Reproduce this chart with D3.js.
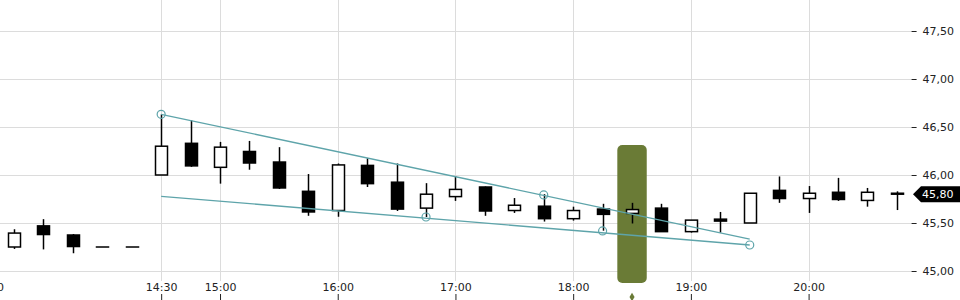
<!DOCTYPE html>
<html><head><meta charset="utf-8">
<script src="https://cdn.jsdelivr.net/npm/d3@7"></script>
<style>
html,body{margin:0;padding:0;background:#fff;overflow:hidden}
svg{display:block;font-family:"DejaVu Sans",sans-serif}
</style></head>
<body><svg id="c" width="960" height="300"></svg>
<script>
// ---- data ----
const times = ["20:45","21:00","21:15","21:30","21:45",
  "14:30","14:45","15:00","15:15","15:30","15:45","16:00","16:15","16:30","16:45",
  "17:00","17:15","17:30","17:45","18:00","18:15","18:30","18:45","19:00","19:15",
  "19:30","19:45","20:00","20:15","20:30","20:45"];
const open  = [45.25,45.47,45.375,45.25,45.25, 46.00,46.33,46.08,46.245,46.135,45.83,45.63,46.10,45.925,45.655,
  45.775,45.875,45.63,45.675,45.545,45.645,45.60,45.655,45.41,45.54,45.50,45.84,45.755,45.82,45.735,45.81];
const high  = [45.435,45.54,45.385,45.25,45.25, 46.632,46.57,46.345,46.355,46.29,46.01,46.12,46.175,46.12,45.915,
  45.99,45.88,45.76,45.80,45.67,45.70,45.71,45.70,45.53,45.615,45.81,45.985,45.885,45.97,45.865,45.83];
const low   = [45.23,45.225,45.185,45.25,45.25, 46.00,46.085,45.91,46.055,45.855,45.575,45.565,45.875,45.625,45.5625,
  45.73,45.575,45.605,45.515,45.525,45.42,45.495,45.41,45.40,45.40,45.50,45.71,45.605,45.73,45.67,45.635];
const close = [45.395,45.38,45.255,45.25,45.25, 46.30,46.095,46.29,46.125,45.865,45.615,46.105,45.91,45.645,45.80,
  45.85,45.625,45.685,45.545,45.63,45.59,45.64,45.41,45.53,45.52,45.81,45.755,45.81,45.745,45.82,45.80];
const xTickIdx    = [-0.9, 5, 7, 11, 15, 19, 23, 27];
const xTickLabels = ["21:00","14:30","15:00","16:00","17:00","18:00","19:00","20:00"];
const yTicks = [45.0, 45.5, 46.0, 46.5, 47.0, 47.5];
const lastPrice = 45.80;
const highlightIdx = 21;
const highlightTop = 46.3125;
// trendlines: [index, value]
const upperLine = [[5, 46.632], [25, 45.333]];
const lowerLine = [[5, 45.778], [25, 45.271]];
const anchors = [[5, 46.632], [18, 45.792], [14, 45.5625], [20, 45.417], [25, 45.271]];

// ---- drawing ----
const svg = d3.select("#c");
const W = 960, H = 300;
const x = d3.scaleLinear().domain([-0.5, times.length - 0.5]).range([-0.7, 911.6]);
const y = d3.scaleLinear().domain([45, 47.5]).range([271, 31]);
const loc = d3.formatLocale({decimal: ",", thousands: ".", grouping: [3], currency: ["", "€"]});
const fmt = loc.format(".2f");
const grid = "#dcdcdc";

// grid
svg.append("g").selectAll("line").data(yTicks).join("line")
  .attr("x1", 0).attr("x2", x.range()[1]).attr("y1", d => y(d)).attr("y2", d => y(d))
  .attr("stroke", grid).attr("stroke-width", 1).attr("shape-rendering", "crispEdges");
svg.append("g").selectAll("line").data(xTickIdx).join("line")
  .attr("x1", d => Math.round(x(d)) + 0.5).attr("x2", d => Math.round(x(d)) + 0.5)
  .attr("y1", 0).attr("y2", 281)
  .attr("stroke", grid).attr("stroke-width", 1);

// highlight box
const bw = x(1) - x(0);
const olive = "#6a7b36";
svg.append("rect")
  .attr("x", x(highlightIdx) - bw / 2).attr("width", bw)
  .attr("y", y(highlightTop)).attr("height", 283 - y(highlightTop))
  .attr("rx", 5).attr("fill", olive);
svg.append("path")
  .attr("d", d3.symbol(d3.symbolDiamond, 22)())
  .attr("transform", `translate(${x(highlightIdx)},297)`)
  .attr("fill", olive);

// candles
const idx = d3.range(times.length);
const cg = svg.append("g").selectAll("g").data(idx).join("g");
cg.append("line")
  .attr("x1", i => Math.round(x(i)) + 0.5).attr("x2", i => Math.round(x(i)) + 0.5)
  .attr("y1", i => y(high[i])).attr("y2", i => y(low[i]))
  .attr("stroke", "#000").attr("stroke-width", 1.5);
cg.append("rect")
  .attr("x", i => Math.round(x(i)) - 5.5).attr("width", 12)
  .attr("y", i => y(Math.max(open[i], close[i])))
  .attr("height", i => Math.max(0.01, Math.abs(y(open[i]) - y(close[i]))))
  .attr("fill", i => close[i] >= open[i] ? "#fff" : "#000")
  .attr("stroke", "#000").attr("stroke-width", 1.5);

// trendlines
const teal = "#5ea4aa";
const line = d3.line().x(d => x(d[0])).y(d => y(d[1]));
svg.append("path").attr("d", line(upperLine)).attr("fill", "none").attr("stroke", teal).attr("stroke-width", 1.3);
svg.append("path").attr("d", line(lowerLine)).attr("fill", "none").attr("stroke", teal).attr("stroke-width", 1.3);
svg.append("g").selectAll("circle").data(anchors).join("circle")
  .attr("cx", d => x(d[0])).attr("cy", d => y(d[1])).attr("r", 4)
  .attr("fill", "none").attr("stroke", teal).attr("stroke-width", 1.2);

// y axis (right)
const ya = svg.append("g").attr("transform", `translate(${x.range()[1]},0)`)
  .call(d3.axisRight(y).tickValues(yTicks).tickFormat(fmt).tickSize(5).tickPadding(6));
ya.select(".domain").remove();
ya.selectAll("line").attr("stroke", "#222");
ya.selectAll("text").attr("font-size", 11).attr("fill", "#222").attr("font-family", "DejaVu Sans, sans-serif");

// last price tag
const ly = y(lastPrice);
const tx = 913;
svg.append("path")
  .attr("d", `M${tx},${ly} L${tx + 8},${ly - 8} L${W},${ly - 8} L${W},${ly + 8} L${tx + 8},${ly + 8} Z`)
  .attr("fill", "#000");
svg.append("text").attr("x", 922).attr("y", ly).attr("dy", "0.35em")
  .attr("font-size", 11).attr("fill", "#fff").text(fmt(lastPrice));

// x axis (bottom, labels above ticks)
const xa = svg.append("g").attr("transform", `translate(0,${H})`)
  .call(d3.axisTop(x).tickValues(xTickIdx).tickFormat((d, i) => xTickLabels[i]).tickSize(6).tickPadding(3));
xa.select(".domain").remove();
xa.selectAll("line").attr("stroke", "#222");
xa.selectAll("text").attr("font-size", 11).attr("fill", "#222").attr("font-family", "DejaVu Sans, sans-serif");
</script></body></html>
